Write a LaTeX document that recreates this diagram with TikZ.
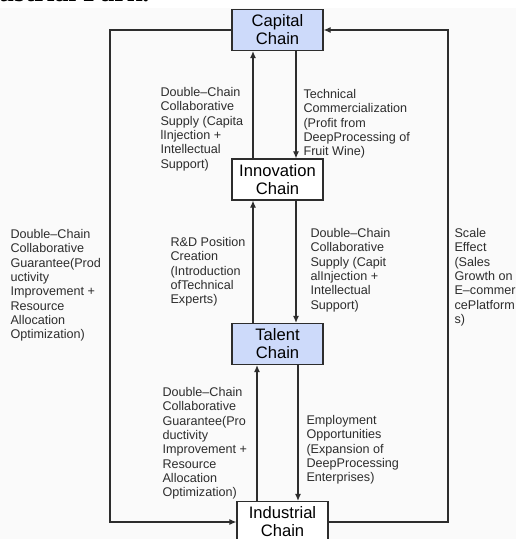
\documentclass[tikz,border=0pt]{standalone}
\usepackage{fontspec}
\setmainfont{Liberation Sans}
\newfontfamily\capfont{Liberation Serif}
\usetikzlibrary{arrows,arrows.meta,positioning}
\definecolor{chainblue}{RGB}{205,218,250}
\definecolor{linegray}{RGB}{45,45,45}
\definecolor{pagegray}{RGB}{250,250,250}
\newcommand{\lbl}{\fontsize{12.6}{14.3}\selectfont}
\newcommand{\chn}{\fontsize{16.6}{18}\selectfont}

\begin{document}
\begin{tikzpicture}[x=1pt,y=-1pt,->,>={Latex[length=7pt,width=6pt]},line width=1.1pt,draw=linegray,
     chain/.style={draw=linegray, line width=1.2pt, minimum width=91pt, minimum height=41pt, inner sep=1pt, align=center, font=\chn},
     note/.style={anchor=north west, inner sep=0pt, align=left, font=\lbl, text=linegray}]
    \useasboundingbox (0,0) rectangle (516,539);
    \fill[-, pagegray] (0,8) rectangle (516,539);
    \node[anchor=base west, inner sep=0pt, font=\capfont\bfseries\fontsize{28}{30}\selectfont] (park) at (-2, 1) {ustrial Park.};
    \node[chain, fill=chainblue] (cap) at (277.5, 30) {Capital\\Chain};
    \node[chain, fill=white] (inno) at (277.5, 179.5) {Innovation\\Chain};
    \node[chain, fill=chainblue] (tal) at (277.5, 344) {Talent\\Chain};
    \node[chain, fill=white] (ind) at (282.5, 522) {Industrial\\Chain};
    \coordinate (lft) at (110, 300);
    \coordinate (rgt) at (448, 300);
    \draw ([xshift=-24.5pt]inno.north) -- ([xshift=-24.5pt]cap.south);
    \draw ([xshift=18.5pt]cap.south) -- ([xshift=18.5pt]inno.north);
    \draw ([xshift=-24.5pt]tal.north) -- ([xshift=-24.5pt]inno.south);
    \draw ([xshift=18.5pt]inno.south) -- ([xshift=18.5pt]tal.north);
    \draw ([xshift=-25.5pt]ind.north) -- ([xshift=-25.5pt]ind.north |- tal.south);
    \draw ([xshift=20.5pt]tal.south) -- ([xshift=20.5pt]tal.south |- ind.north);
    \draw (cap.west) -| (lft) |- (ind.west);
    \draw (ind.east) -| (rgt) |- (cap.east);
    \node[note] (capsup) at (160, 87) {Double–Chain\\Collaborative\\Supply (Capita\\lInjection +\\Intellectual\\Support)};
    \node[note] (techcom) at (303, 89) {Technical\\Commercialization\\(Profit from\\DeepProcessing of\\Fruit Wine)};
    \node[note] (rdpos) at (170, 237) {R\&D Position\\Creation\\(Introduction\\ofTechnical\\Experts)};
    \node[note] (talsup) at (310, 228) {Double–Chain\\Collaborative\\Supply (Capit\\alInjection +\\Intellectual\\Support)};
    \node[note] (loopgua) at (10, 229) {Double–Chain\\Collaborative\\Guarantee(Prod\\uctivity\\Improvement +\\Resource\\Allocation\\Optimization)};
    \node[note] (scale) at (454, 228) {Scale\\Effect\\(Sales\\Growth on\\E–commer\\cePlatform\\s)};
    \node[note] (indgua) at (162, 387) {Double–Chain\\Collaborative\\Guarantee(Pro\\ductivity\\Improvement +\\Resource\\Allocation\\Optimization)};
    \node[note] (employ) at (306, 415) {Employment\\Opportunities\\(Expansion of\\DeepProcessing\\Enterprises)};
\end{tikzpicture}
\end{document}
